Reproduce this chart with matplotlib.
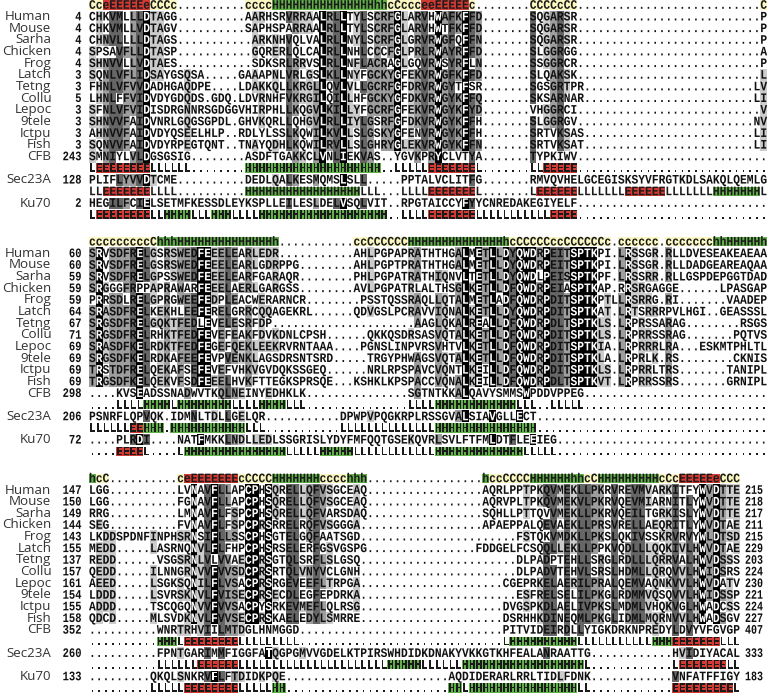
import re
from collections import Counter

import numpy as np
import matplotlib
matplotlib.use("Agg")
import matplotlib.pyplot as plt
from matplotlib.font_manager import FontProperties
from matplotlib.patches import PathPatch, Rectangle
from matplotlib.textpath import TextPath
from matplotlib.transforms import Affine2D

# ---- data -------------------------------------------------------------
# alignment text; "X12" means the character X repeated 12 times
names = ["Human", "Mouse", "Sarha", "Chicken", "Frog", "Latch", "Tetng", "Collu",
         "Lepoc", "9tele", "Ictpu", "Fish", "CFB", "Sec23A", "Ku70"]

cons_ss = [
    "CceE5eC3c.10c4H15h2cCc3e2E5c.8C4cC2.27C",
    "c9Ch3H14h.11c2C6H14hcC5c2C6c.c6.c7h2H5h",
    "hcC.10ceE7cC4H7c4h3.17hc2C4H6h2cCH9cCcE5eC3",
]

block1 = [
    "CHKVMLLLDTAGG.10AARHSRVRRAALRLLTYLSCRFGLARVHWAFKFFD.7SQGARSR.27P",
    "CHKVMLLVDTAGV.10SAPHSPARRAALRLLTYLSCRFGLARVHWTFKFFD.7SQGARSR.27P",
    "CHNVLLLLDTAGS.11ARKNHVQLVALRLLNYLSCRFGLGRVRWGFQFFN.7SQGARSR.27P",
    "SPSAVFLLDTASP.11GQRERLQLCALRLLNHLCCCFGLPRLRWAYRFFD.7SLGGRGG.27A",
    "SHNVVLLVDTAES.11SDKSRLRRVSLRLLNFLACRAGLGQVRWSYRFLN.7SSGGRCR.27P",
    "SQNLVFLIDSAYGSQSA.5GAAAPNLVRLGSLKLLNYFGCKYGFEKVRWGFKFFD.7SLQAKSK.27L",
    "FHNLVFVVDADHGAQDPE.4LDAKKQLLKRGLLQVLVLLGCRFGFDRVRWGYTFSR.7SGSGRTPR.25LV",
    "LHNLFFVIDVDYGDQDS.GDQ.LDVRNHFVKRGILQILLHFGCKYGFDKVRWGYKFFQ.7SKSARNAR.25LI",
    "SFNLVFVIDISDRGNNRSGDGGVHIRPHLLKQGVLKILLYFGCRFGFEKVRWGYKFYD.7VHGGRCI.27V",
    "SHNVVFAIDVNRLGQGSGPDL.GHVKQRLLQHGVLRLLIYLGSRFGFDKVRWGYKFFH.7SLGGRGV.26NV",
    "AHNVVFAIDVDYQSEELHLP.2RDLYLSSLKQWILKVLLSLGSKYGFENVRWGYKFFH.7SRTVKSAS.25LI",
    "SQNVVFAIDVDYRPEGTQNT.2TNAYQDHLKQWILRVLLSLGHRYGLEKVRWGYKFFN.7SRTVKSAT.25LI",
    "SMNIYLVLDGSGSIG.8ASDFTGAKKCLVNLIEKVAS.2YGVKPRYCLVTYA.7TYPKIWV.28",
    "PLIFLYVVDTCME.10DEDLQALKESMQMSLSLL.5PPTALVCLITFG.7RMVQVHELGCEGISKSYVFRGTKDLSAKQLQEMLG",
    "HEGILFCIELSETMFKESSDLEYKSPLLEILESLDELVSQLVIT.2RPGTAICCYFYYCNREDAKEGIYELF.28",
]

block2 = [
    "SRVSDFRELGSRSWEDFEEELEARLEDR.11AHLPGPAPRATHTHGALMETLLDYQWDRPEITSPTKPI.LRSSGR.RLLDVESEAKEAEAA",
    "SRVSDFRELGSRSWEDFEEELEARLGDRPPG.8AHLPGPTPRATHTHGALMETLLDYQWDRPEITSPTKPI.LRSSGR.RLLDADGEAREAQAA",
    "SRVSDFRELGPSSWEDFEEELEARFGARAQR.8PHLPGPATRATHIQNVLTETLLDYQWDLPEISSPTKPF.LRSSRR.RLLGSPDEPGGTDAD",
    "SRGGGFRPPAPRAWARFEEELAERLGARGSS.8AVLPGPATRLALTHSGLKETLLDFQWDRPEIASPTKAP.RRSRGAGGE.6LPASGAP",
    "PRRSDLRELGPRGWEEFEDPLEACWERARNCR.8PSSTQSSRAQLLQTALMETLADFQWDRPDITSPTKPTLLRSRRG.RI.7VAADEP",
    "SRASDFRELKEKHLEEFERELGRRCQQAGEKRL.6QDVGSLPCRAVVIQNALKETLLDYQWDRPDITSPTKAT.LRTSRRRPVLHGI.2GEASSSL",
    "SRGSDFRELGQKTFEDLEVELESRFDP.21AAGLQKALREALLDFQWDRPDLTSPTKLS.LRPRSSARAG.8RSGS",
    "SRGSDFRELRHKTFEDFEVEFEAKFDVKDNLCPSH.6QKKQSDRSASVQTALKETLLDFQWDRPDITSPTKLS.LRPRRSSRAG.7PQTVS",
    "SRASDFKELRDKTFEDFEGEFQEKLEEKRVRNTAAA.4PGNSLINPVRSVHTVLKETLLDFQWDRPDITSPTKIA.LRPRRRLRA.3ESKMTPHLTL",
    "SRGSDFKELRDKAFEEFEVPVENKLAGSDRSNTSRD.5TRGYPHWAGSVQTALKETLLDFQWDRPDITSPTKLA.LRPRLK.RS.8CKNIS",
    "TRSTDFRELQEKAFSEFEVEFVHKVGVDQKSSGEQ.6NRLRPSPAVCVQNTLKEILLDFQWDRPDITSPTKLS.LRPRRLTRS.7TANIPL",
    "TRGSDFKELQEKVFSDFEEELHVKFTTEGKSPRSQE.3KSHKLKPSPACCVQNALKEILLDFQWDRPDLTSPTKVT.LRPRRSSRS.7GRNIPL",
    ".4KVSEADSSNADWVTKQLNEINYEDHKLK.15SGTNTKKALQAVYSMMSWPDDVPPEG.27",
    "PSNRFLQPVQK.IDMNLTDLLGELQR.11DPWPVPQGKRPLRSSGVALSIAVGLLECT.34",
    ".4PLRDI.4NATFMKKLNDLLEDLSSGRISLYDYFMFQQTGSEKQVRLSVLFTFMLDTFLEEIEG.31",
]

block3 = [
    "LGG.10LVNAVFLLAPCPHSQRELLQFVSGCEAQ.17AQRLPPTPKQVMEKLLPKRVREVMVARKITFYWVDTTE",
    "LGG.10FGNAVFLLAPCPHSQRELLQFVSGCEAQ.17AQRVPLTPKQVMEKVLPKRVQEVMIARNITLYWVDTTE",
    "RRG.10LMNAVFLFSPCPHSQRELLQFVARSDAQ.17SQHLLPTTQVVMEKLLPKRVQEILTGRKISLYWVDTTE",
    "SEG.10FVNAVFLFSPCPRSRRELRQFVSGGGA.18APAEPPALQEVAEKLLPRSVRELLAEQRITLYWVDTAE",
    "LKDDSPDNFINPHSRNSIFLLSSCPHSGTELGQFAATSGD.23FSTQKVMDKLLPKSLQKIVSSKRVRVYWLDTSD",
    "MEDD.5LASRNQNVLFLFHPCPHSRSELERFGSVGSPG.16FDDGELFCSQQLLEKLLPPKVQDLLLQQKIVLHWVDTAE",
    "REDD.6VSGSRNLVLVVAECPRSGTQLSRFLSLGSQ.23DLPADPTEHLLSRGLRDLLLQRRVALHWVDSSS",
    "QEDD.5ILNNGRNVVFVVSDCPRSRTQLVNYVCLGNH.23DLPADVTEHVLSRSLHDMLLQRQVVLHWIDSRS",
    "AEED.5LSGKSQNILFLVSACPRSRGEVEEFLTRPGA.21CGEPRKELAERILPRALQEMVAQNKVVLHWVDATV",
    "LDDD.5LSVRSKNVLFVISECPRSECDLEGFEPDRKA.23ESFRELSELILPKGLRDMMVQSQVVLHWIDSSP",
    "ADDD.5TSCQGQNVVFVVSACPYSRKEVMEFLQLRSG.21DVGSPKDLAELIVPKSLMDMLVHQKVGLHWADCSS",
    "QDCD.5MLSVDKNVLFVVSECPRSKAELEDYLSMRRE.21DSRHHKDINEQMLPKGLIDMLMQRNVVLHWADSGV",
    ".10WNRTRHVIILMTDGLHNMGGD.30PITVIDEIRDLLYIGKDRKNPREDYLDVYVFGVGP",
    ".10FPNTGARIMMFIGGFATQGPGMVVGDELKTPIRSWHDIDKDNAKYVKKGTKHFEALANRAATTG.12HVIDIYACAL",
    ".9QKQLSNKRVFLFTDIDKPQE.24AQDIDERARLRRLTIDLFDNK.12VNFATFFIGY",
]

cfb_ss = ["LE8L6.8H20.2L5E7L.7L2E5.28",
          ".4L4H4LH8L4H4L3.15L4H12L3.2L5.27",
          ".10H3LE8L9.30LH10L11H3E7L3"]
sec_ss = ["L2E7L4.10H17L3.3L4E7L.7LE6L7E6L7H7L",
          "L6E2H3.H11L3.11L14H15.34",
          ".10L6E6L22H5L6H18L.12LE7L2"]
ku_ss = ["LE8L2H4L3H3L4H19.2L4E7L11E4.28",
         ".4E4L.4LH15L5H5L12H13L5.31",
         ".9L5E8L5H2.24H2LH16L2.12E9L"]

start1 = [4, 4, 4, 4, 4, 3, 3, 5, 3, 3, 3, 3, 243, 128, 2]
start2 = [60, 60, 59, 59, 59, 64, 67, 71, 69, 69, 69, 69, 298, 206, 72]
start3 = [147, 150, 149, 144, 143, 155, 137, 157, 161, 154, 155, 158, 352, 260, 133]
end3 = [215, 218, 217, 211, 215, 229, 203, 224, 230, 221, 224, 227, 407, 333, 183]

# ---- layout ------------------------------------------------------------
W, H = 773, 699
X0 = 89.0
CW = 6.78
RH = 11.65
TOPS = [5.0, 241.7, 478.4]
NCOL = [100, 100, 96]

GROUPS = ["ILVM", "FYW", "KR", "DENQ", "ST", "AG"]
SHADE = {0: (1, 1, 1), 1: (0.80, 0.80, 0.80), 2: (0.62, 0.62, 0.62),
         3: (0.40, 0.40, 0.40), 4: (0, 0, 0)}
YELLOW, RED, GREEN = "#fbf7c2", "#d23a34", "#62b049"

mono = FontProperties(family="Liberation Mono", weight="bold")
FS = 13.0


def expand(s, width):
    s = re.sub(r"(.)(\d+)", lambda m: m.group(1) * int(m.group(2)), s)
    return s[:width].ljust(width, ".")


def grp(a):
    for g in GROUPS:
        if a in g:
            return g
    return a


def shade(rows):
    n = len(rows[0])
    lev = np.zeros((len(rows), n), int)
    for c in range(n):
        col = [r[c] for r in rows]
        res = [a for a in col if a != "."]
        if not res:
            continue
        g, gn = Counter(grp(a) for a in res).most_common(1)[0]
        fn = Counter(a for a in res if grp(a) == g).most_common(1)[0][1]
        if fn >= 12:
            L = 4
        elif gn >= 12:
            L = 3
        elif gn >= 9:
            L = 2
        elif gn >= 6:
            L = 1
        else:
            L = 0
        for i, a in enumerate(col):
            if a != "." and grp(a) == g:
                lev[i, c] = L
    return lev


def mono_text(ax, s, x, yc, color, cw=CW):
    if not s.strip():
        return
    tp = TextPath((0, 0), s, size=FS, prop=mono)
    tr = Affine2D().scale(cw / (0.6 * FS), -1.0).translate(x, yc + 3.8)
    ax.add_patch(PathPatch(tr.transform_path(tp), fc=color, ec="none", lw=0, zorder=3))


fig = plt.figure(figsize=(W / 100, H / 100), dpi=100)
ax = fig.add_axes([0, 0, 1, 1])

blocks = [block1, block2, block3]
starts = [start1, start2, start3]

for b in range(3):
    n = NCOL[b]
    top = TOPS[b]
    seqs = [expand(s, n) for s in blocks[b]]
    lev = shade(seqs)

    # display order: consensus, 12 vertebrates, CFB, ss, Sec23A, ss, Ku70, ss
    order = [("ss", expand(cons_ss[b], n))] + [("seq", i) for i in range(13)]
    order += [("ss", expand(cfb_ss[b], n)), ("seq", 13),
              ("ss", expand(sec_ss[b], n)), ("seq", 14),
              ("ss", expand(ku_ss[b], n))]

    grid = np.ones((len(order), n, 3))
    for r, (kind, v) in enumerate(order):
        if kind == "seq":
            for c in range(n):
                grid[r, c] = SHADE[lev[v, c]]
    y0 = top - RH / 2
    ax.imshow(grid, extent=(X0, X0 + n * CW, y0 + len(order) * RH, y0),
              interpolation="nearest", aspect="auto", zorder=0)

    for r, (kind, v) in enumerate(order):
        yc = top + r * RH
        if kind == "ss":
            s = v
            cons = r == 0
            c = 0
            while c < n:
                ch = s[c].upper()
                col = {"E": RED, "H": GREEN, "C": YELLOW if cons else None}.get(ch)
                c1 = c
                while c1 < n and s[c1].upper() == ch:
                    c1 += 1
                if col:
                    ax.add_patch(Rectangle((X0 + c * CW, yc - 0.4 * RH), (c1 - c) * CW,
                                           0.8 * RH, fc=col, ec="none", zorder=1))
                c = c1
            mono_text(ax, s, X0, yc, "#1a1a1a")
        else:
            s = seqs[v]
            dark = "".join(ch if lev[v, c] < 4 else " " for c, ch in enumerate(s))
            light = "".join(ch if lev[v, c] == 4 else " " for c, ch in enumerate(s))
            mono_text(ax, dark, X0, yc, "#111111")
            mono_text(ax, light, X0, yc, "white")
            name = names[v]
            ax.text(51.5, yc, name, ha="right", va="center", fontsize=9.6,
                    family="Open Sans", color="#333333")
            num = str(starts[b][v])
            mono_text(ax, num, 81.5 - len(num) * 6.3, yc, "#111111", cw=6.3)
            if b == 2:
                num = str(end3[v])
                mono_text(ax, num, 763 - len(num) * 6.0, yc, "#111111", cw=6.0)

ax.set_xlim(0, W)
ax.set_ylim(H, 0)
ax.axis("off")
fig.savefig("out.png", dpi=100)
